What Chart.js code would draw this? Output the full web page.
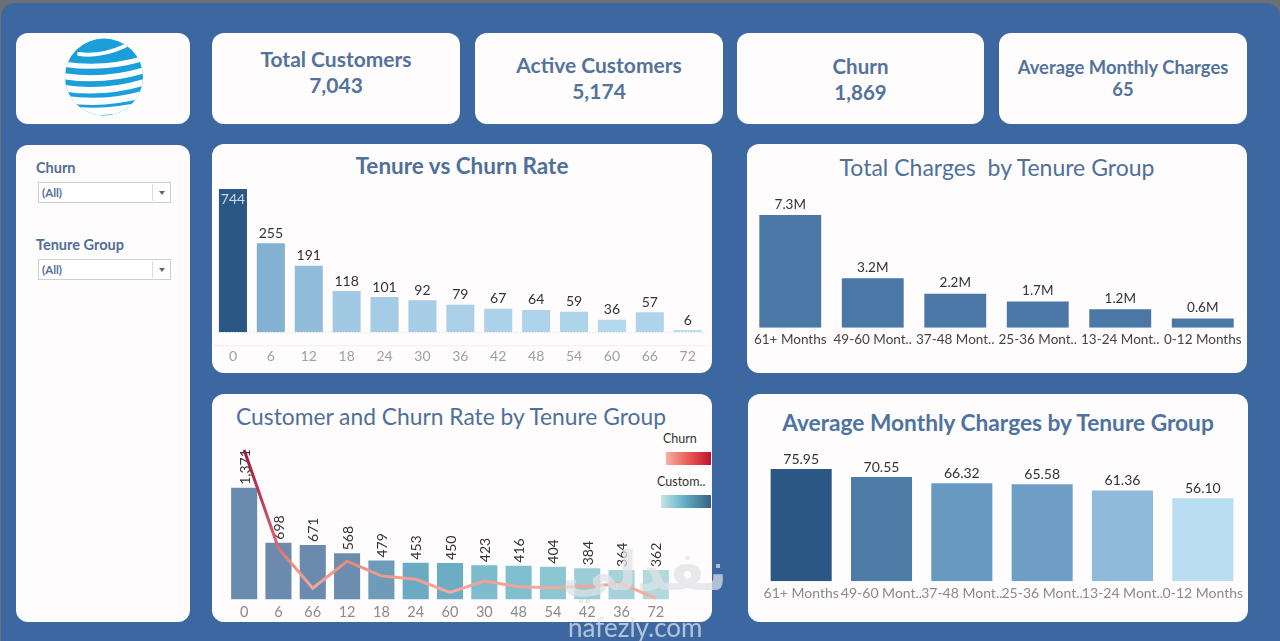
<!DOCTYPE html>
<html><head><meta charset="utf-8">
<script src="https://cdn.jsdelivr.net/npm/chart.js@4.4.1/dist/chart.umd.min.js"></script>
<style>
html,body{margin:0;padding:0;width:1280px;height:641px;overflow:hidden;background:#6b6f76;}
#frame{position:absolute;left:1px;top:3px;width:1279px;height:638px;background:#3c67a1;border-radius:14px 14px 0 0;}
.card{position:absolute;background:#fefcfc;border-radius:12px;}
.kt{position:absolute;left:0;right:0;text-align:center;font-family:Lato,sans-serif;font-weight:700;color:#53739b;line-height:24px;white-space:nowrap;}
.cw{position:absolute;}
.title{position:absolute;font-family:Lato,sans-serif;color:#4f7099;white-space:nowrap;line-height:26px;}
.flab{position:absolute;left:20px;font-family:Lato,sans-serif;font-weight:700;font-size:14.5px;color:#4f6f97;}
.dd{position:absolute;left:22px;width:131px;height:19px;border:1px solid #cfcfcf;background:#fff;font-family:Lato,sans-serif;font-weight:700;font-size:11.5px;color:#4f6f97;line-height:19px;}
.dd span{position:absolute;left:3px;}
.dd i{position:absolute;left:113px;top:1px;bottom:1px;border-left:1px solid #dcdcdc;}
.dd b{position:absolute;left:120px;top:8px;width:0;height:0;border-left:3px solid transparent;border-right:3px solid transparent;border-top:4px solid #666;}
.leg{position:absolute;font-family:Lato,sans-serif;font-size:12.5px;color:#333;}
.sw{position:absolute;height:13px;}
</style></head>
<body>
<div id="frame"></div>

<div class="card" style="left:16px;top:33px;width:174px;height:91px;"></div>
<svg width="90" height="90" viewBox="0 0 90 90" style="position:absolute;left:59px;top:32px">
 <defs><clipPath id="gc"><ellipse cx="45" cy="45" rx="39" ry="38.5"/></clipPath></defs>
 <ellipse cx="45" cy="45" rx="39" ry="38.5" fill="#1a9fdb"/>
 <g clip-path="url(#gc)" stroke="#ffffff" fill="none" stroke-linecap="round">
  <path d="M20 22 Q42 25 66 14" stroke-width="4"/>
  <path d="M-2 31 Q45 40 92 24" stroke-width="5"/>
  <path d="M-2 43 Q45 52 92 36" stroke-width="6"/>
  <path d="M-2 55 Q45 64 92 48" stroke-width="6.5"/>
  <path d="M-2 66 Q45 75 92 60" stroke-width="7"/>
  <path d="M-2 76 Q45 85 92 71" stroke-width="7.5"/>
 </g>
</svg>

<div id="kpis"></div>

<div class="card" style="left:16px;top:145px;width:174px;height:477px;">
 <div class="flab" style="top:14px;">Churn</div>
 <div class="dd" style="top:37px;"><span>(All)</span><i></i><b></b></div>
 <div class="flab" style="top:91px;">Tenure Group</div>
 <div class="dd" style="top:114px;"><span>(All)</span><i></i><b></b></div>
</div>

<div class="card" style="left:212px;top:144px;width:500px;height:229px;">
 <div class="title" style="left:0;right:0;top:9px;text-align:center;font-weight:700;font-size:22.5px;">Tenure vs Churn Rate</div>
</div>
<div class="cw" style="left:212px;top:180px;width:500px;height:201px;"><canvas id="c1"></canvas></div>

<div class="card" style="left:747px;top:144px;width:500px;height:229px;">
 <div class="title" style="left:0;right:0;top:10px;text-align:center;font-size:23px;">Total Charges&nbsp; by Tenure Group</div>
</div>
<div class="cw" style="left:747px;top:190px;width:500px;height:164px;"><canvas id="c2"></canvas></div>

<div class="card" style="left:212px;top:394px;width:500px;height:228px;">
 <div class="title" style="left:24px;top:9px;font-size:22.8px;">Customer and Churn Rate by Tenure Group</div>
 <div class="leg" style="left:451px;top:37px;">Churn</div>
 <div class="sw" style="left:454px;top:58px;width:45px;background:linear-gradient(to right,#f6b0a2,#ea5a55,#c0122e);"></div>
 <div class="leg" style="left:445px;top:80px;">Custom..</div>
 <div class="sw" style="left:449px;top:101px;width:50px;background:linear-gradient(to right,#c3e5e8,#5eabc1,#3d5f86);"></div>
</div>
<div class="cw" style="left:212px;top:430px;width:500px;height:196px;"><canvas id="c3"></canvas></div>

<div class="card" style="left:748px;top:394px;width:500px;height:228px;">
 <div class="title" style="left:0;right:0;top:16px;text-align:center;font-weight:700;font-size:22.7px;color:#4e73a0;">Average Monthly Charges by Tenure Group</div>
</div>
<div class="cw" style="left:748px;top:445px;width:500px;height:163px;"><canvas id="c4"></canvas></div>

<div style="position:absolute;left:562px;top:540px;font-family:'DejaVu Sans',sans-serif;font-weight:700;font-size:54px;color:rgba(222,226,228,0.72);">نفذلي</div>
<div style="position:absolute;left:568px;top:611px;font-family:Lato,sans-serif;font-size:26px;color:rgba(220,226,236,0.75);">nafezly.com</div>

<script>
// ---------- data ----------
const kpiTitles = ['Total Customers','Active Customers','Churn','Average Monthly Charges'];
const kpiValues = ['7,043','5,174','1,869','65'];

const tenureBins = ['0','6','12','18','24','30','36','42','48','54','60','66','72'];
const churnByBin = [744,255,191,118,101,92,79,67,64,59,36,57,6];

const tenureGroups = ['61+ Months','49-60 Mont..','37-48 Mont..','25-36 Mont..','13-24 Mont..','0-12 Months'];
const totalChargesM = [7.3,3.2,2.2,1.7,1.2,0.6];
const avgMonthlyCharges = [75.95,70.55,66.32,65.58,61.36,56.10];

const binsByCustomers = ['0','6','66','12','18','24','60','30','48','54','42','36','72'];
const customersByBin = [1371,698,671,568,479,453,450,423,416,404,384,364,362];
const churnForSortedBins = binsByCustomers.map(b => churnByBin[tenureBins.indexOf(b)]);

// ---------- styles ----------
const customerBarColors = ['#6a8aae','#6a8aae','#6a8aae','#6b8dae','#6e9cb8','#6aabc3','#6cadc4','#7dbccd','#80bfcf','#8cc6d3','#9acdd7','#a6d3da','#b2d9de'];

// KPI cards
const kpiBoxes = [[212,248,14,40,21],[475,248,20,46,21],[737,247,21,47,20.5],[999,248,22,44,18.4]];
const kp = document.getElementById('kpis');
kpiTitles.forEach((t,i)=>{
  const [l,w,tt,vt,fs] = kpiBoxes[i];
  const d = document.createElement('div');
  d.className='card'; d.style.cssText=`left:${l}px;top:33px;width:${w}px;height:91px;`;
  d.innerHTML=`<div class="kt" style="top:${tt}px;font-size:${fs}px">${t}</div><div class="kt" style="top:${vt}px;font-size:${fs}px">${kpiValues[i]}</div>`;
  kp.appendChild(d);
});

function hex(c){return [parseInt(c.slice(1,3),16),parseInt(c.slice(3,5),16),parseInt(c.slice(5,7),16)];}
function blues(t){
  const s=[[0,'#b9ddf1'],[0.5,'#6a9bc3'],[1,'#2a5783']];
  let a=s[0],b=s[1]; if(t>0.5){a=s[1];b=s[2];}
  const u=(t-a[0])/(b[0]-a[0]); const A=hex(a[1]),B=hex(b[1]);
  return `rgb(${A.map((v,k)=>Math.round(v+(B[k]-v)*u)).join(',')})`;
}
function scaleColors(arr){const mn=Math.min(...arr),mx=Math.max(...arr);return arr.map(v=>blues((v-mn)/(mx-mn)));}

const labelPlugin = {
  id:'vlabels',
  afterDatasetDraw(chart,args,opts){
    const ds = chart.data.datasets[args.index];
    if(ds.type==='line' || !opts.format) return;
    const c=chart.ctx, area=chart.chartArea;
    c.save();
    c.font = `${opts.size||13}px Lato, sans-serif`;
    args.meta.data.forEach((el,i)=>{
      const txt = opts.format(ds.data[i]);
      if(opts.rotate){
        c.save(); c.translate(el.x, el.y-3); c.rotate(-Math.PI/2);
        c.fillStyle=opts.color; c.textAlign='left'; c.textBaseline='middle';
        c.fillText(txt,0,1); c.restore();
      } else if(el.y < area.top){
        c.fillStyle=opts.insideColor||'#fff'; c.textAlign='center'; c.textBaseline='middle';
        c.fillText(txt, el.x, area.top+10);
      } else {
        c.fillStyle=opts.color; c.textAlign='center'; c.textBaseline='bottom';
        c.fillText(txt, el.x, el.y-(opts.gap||3));
      }
    });
    c.restore();
  }
};
const linesPlugin = {
  id:'hlines',
  beforeDatasetsDraw(chart,args,opts){
    if(!opts.on) return;
    const c=chart.ctx,a=chart.chartArea;
    c.save();
    c.strokeStyle='#d8d8d8'; c.lineWidth=1; c.setLineDash([1,2]);
    c.beginPath(); c.moveTo(a.left,a.bottom+0.5); c.lineTo(a.right,a.bottom+0.5); c.stroke();
    c.setLineDash([]); c.strokeStyle='#eeeeee';
    c.beginPath(); c.moveTo(a.left,a.bottom+13.5); c.lineTo(a.right,a.bottom+13.5); c.stroke();
    c.restore();
  }
};

function opts(pad,ymax,tick,labels){
  return {responsive:true,maintainAspectRatio:false,animation:false,devicePixelRatio:1,
    layout:{padding:pad},
    plugins:{legend:{display:false},tooltip:{enabled:false},vlabels:labels,hlines:{on:false}},
    scales:{
      x:{grid:{display:false,drawTicks:false},border:{display:false},
         ticks:{color:tick.color,font:{family:'Lato',size:tick.size},padding:tick.pad,autoSkip:false,maxRotation:0}},
      y:{display:false,min:0,max:ymax}
    }};
}

// Chart 1: Tenure vs Churn Rate
const o1 = opts({left:2,right:4,top:9,bottom:0},411,{color:'#a0a0a0',size:14,pad:16},
  {format:v=>String(v),color:'#333',size:14,insideColor:'#c9d7e6',gap:3});
o1.plugins.hlines={on:true};
new Chart(document.getElementById('c1'),{type:'bar',
  data:{labels:tenureBins,datasets:[{data:churnByBin,backgroundColor:scaleColors(churnByBin),
    categoryPercentage:1,barPercentage:0.74,clip:0}]},
  options:o1, plugins:[labelPlugin,linesPlugin]});

// Chart 2: Total Charges by Tenure Group
new Chart(document.getElementById('c2'),{type:'bar',
  data:{labels:tenureGroups,datasets:[{data:totalChargesM,backgroundColor:'#4b77a6',
    categoryPercentage:1,barPercentage:0.75}]},
  options:opts({left:2,right:3,top:6,bottom:2},8.53,{color:'#444',size:13.5,pad:4},
    {format:v=>v.toFixed(1)+'M',color:'#333',size:13.5,gap:4}),
  plugins:[labelPlugin]});

// Chart 3: Customer and Churn Rate by Tenure Group
const churnMax = Math.max(...churnForSortedBins);
const o3 = opts({left:15,right:39,top:15,bottom:1},1897,{color:'#8a8a8a',size:14.5,pad:4},
  {format:v=>v.toLocaleString('en-US'),color:'#333',size:14,rotate:true});
o3.scales.y2={display:false,min:0,max:769};
new Chart(document.getElementById('c3'),{
  data:{labels:binsByCustomers,datasets:[
    {type:'line',data:churnForSortedBins,yAxisID:'y2',pointRadius:0,borderWidth:3,tension:0,
     borderColor:(ctx)=>{const ch=ctx.chart; if(!ch.chartArea) return '#e88';
       const s=ch.scales.y2; const g=ch.ctx.createLinearGradient(0,s.getPixelForValue(0),0,s.getPixelForValue(churnMax));
       g.addColorStop(0,'#f6b2a4'); g.addColorStop(0.2,'#f09586'); g.addColorStop(0.38,'#d9626c'); g.addColorStop(1,'#9d1a3d'); return g;}},
    {type:'bar',data:customersByBin,yAxisID:'y',backgroundColor:customerBarColors,categoryPercentage:1,barPercentage:0.76}
  ]},
  options:o3, plugins:[labelPlugin]});

// Chart 4: Average Monthly Charges by Tenure Group
new Chart(document.getElementById('c4'),{type:'bar',
  data:{labels:tenureGroups,datasets:[{data:avgMonthlyCharges,backgroundColor:scaleColors(avgMonthlyCharges),
    categoryPercentage:1,barPercentage:0.76}]},
  options:opts({left:13,right:5,top:10,bottom:2},85.44,{color:'#8a8a8a',size:14,pad:4},
    {format:v=>v.toFixed(2),color:'#333',size:14,gap:3}),
  plugins:[labelPlugin]});
</script>
</body></html>
